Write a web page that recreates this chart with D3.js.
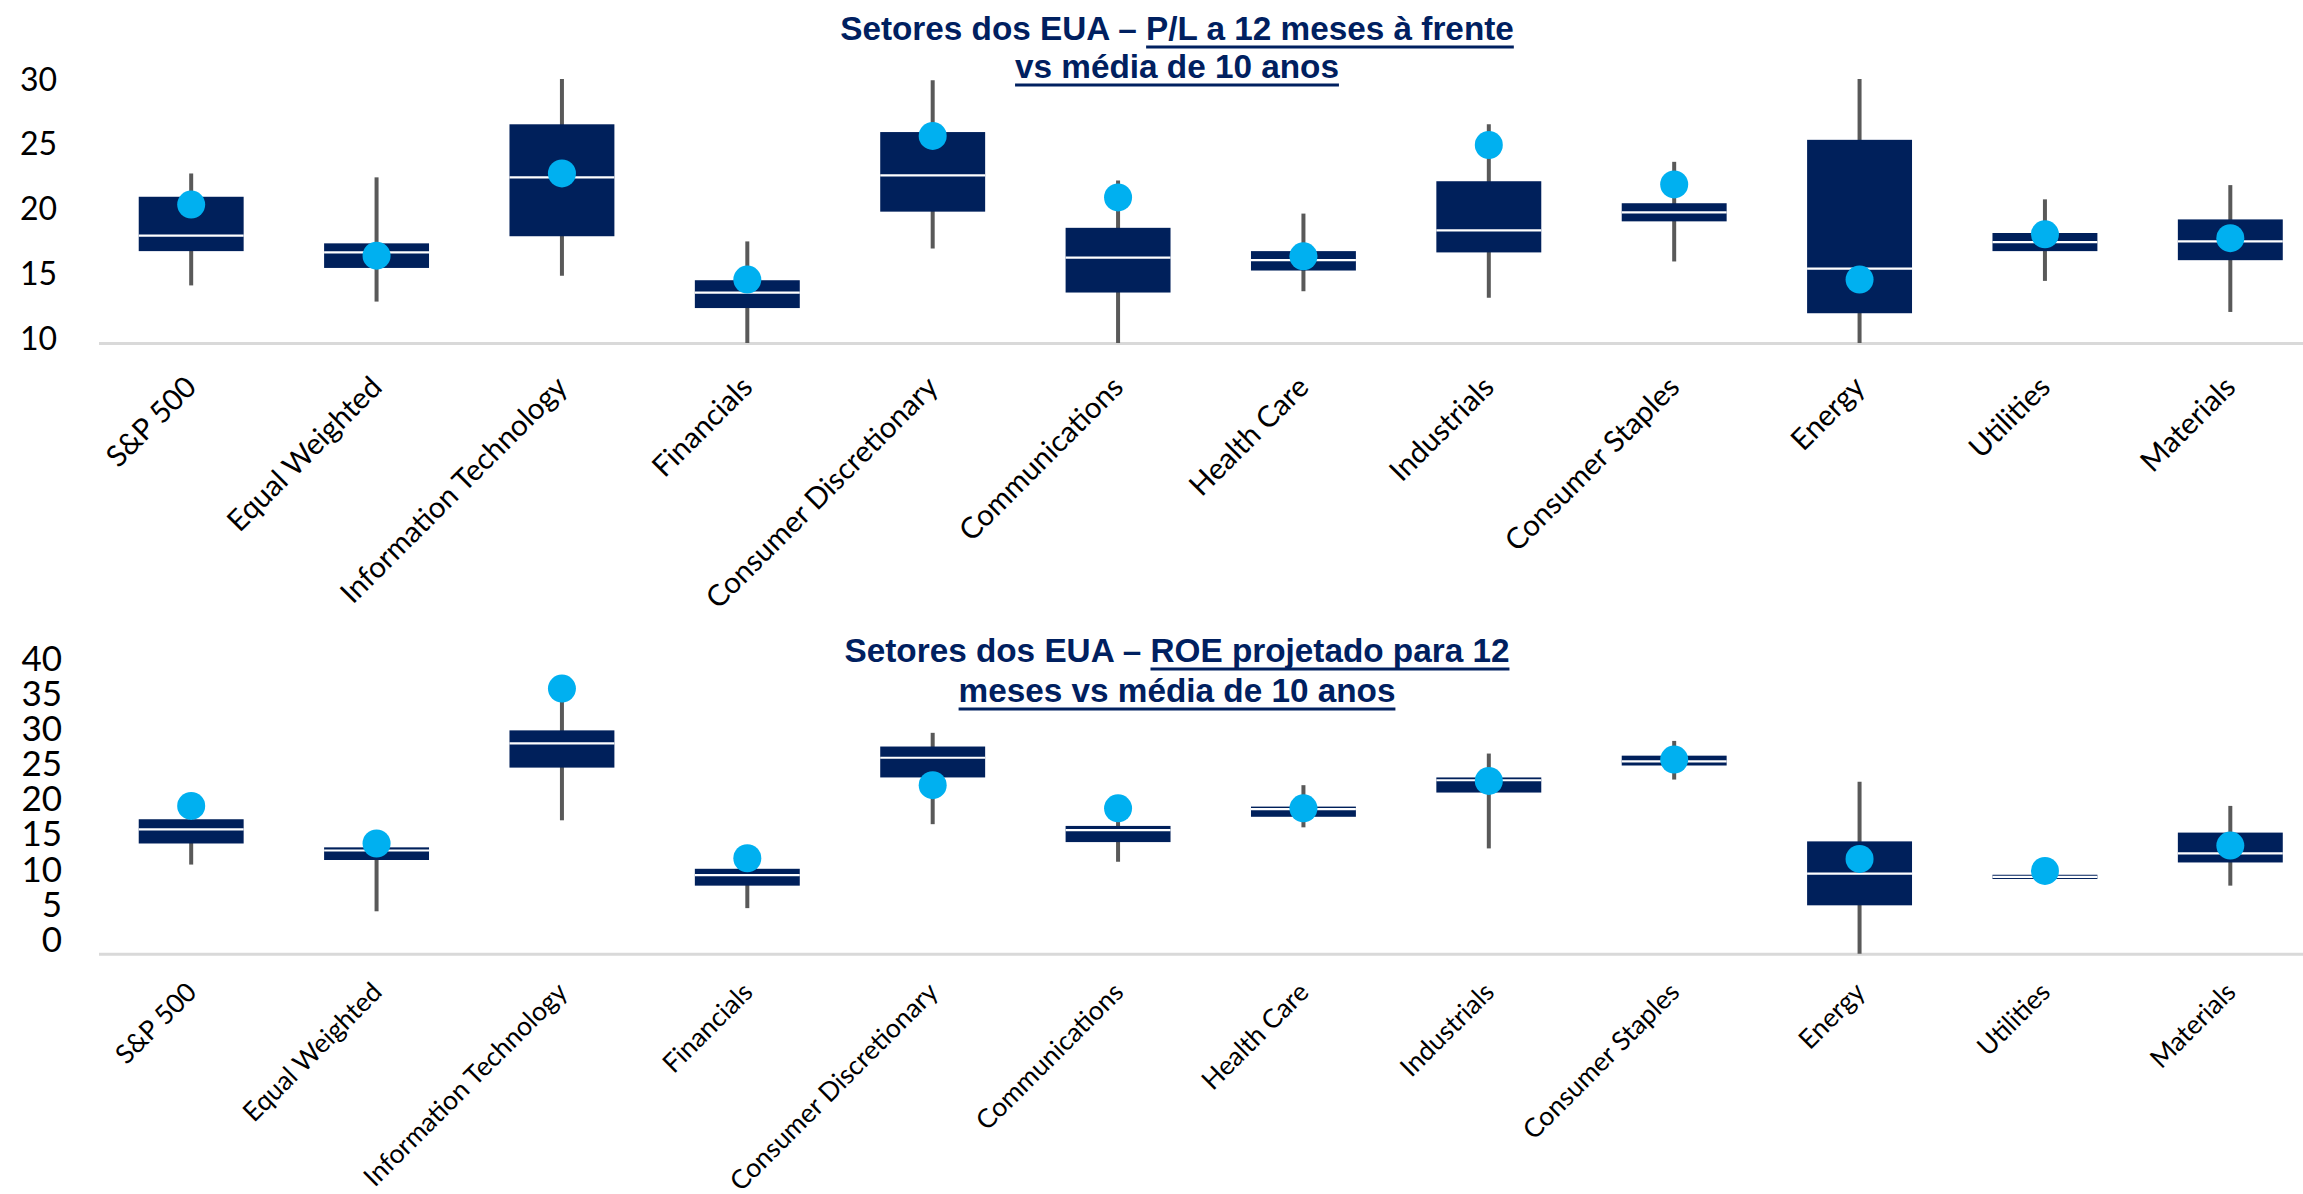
<!DOCTYPE html>
<html><head><meta charset="utf-8">
<script src="https://cdn.jsdelivr.net/npm/d3@7"></script>
<style>html,body{margin:0;padding:0;background:#fff;overflow:hidden}</style>
</head><body><svg id="chart" width="2303" height="1194"></svg>
<script>
// ---------- DATA ----------
const categories = ["S&P 500","Equal Weighted","Information Technology","Financials","Consumer Discretionary","Communications","Health Care","Industrials","Consumer Staples","Energy","Utilities","Materials"];

// Forward P/E (12 months) vs 10-year range
const peMin     = [14.05,12.8,14.8,9.6,16.9,9.4,13.6,13.1,15.9,9.4,14.4,12.0];
const peQ1      = [16.7,15.4,17.85,12.3,19.75,13.5,15.2,16.6,19.0,11.9,16.7,16.0];
const peMedian  = [17.9,16.6,22.4,13.5,22.55,16.2,16.0,18.3,19.7,15.35,17.4,17.45];
const peQ3      = [20.9,17.3,26.5,14.45,25.9,18.5,16.7,22.1,20.4,25.3,18.1,19.15];
const peMax     = [22.7,22.4,30.0,17.45,29.9,22.15,19.6,26.5,23.6,30.0,20.7,21.8];
const peCurrent = [20.3,16.35,22.7,14.5,25.6,20.85,16.3,24.9,21.85,14.5,18.0,17.7];
const peTicks   = [10,15,20,25,30];

// Forward ROE (12 months) vs 10-year range
const roeMin     = [10.6,3.95,16.9,4.4,16.35,11.0,15.9,12.9,22.7,-2.5,8.5,7.6];
const roeQ1      = [13.6,11.25,24.4,7.6,23.0,13.8,17.4,20.85,24.7,4.8,8.55,10.9];
const roeMedian  = [15.6,12.6,27.85,9.1,25.8,15.5,18.5,22.6,25.3,9.3,8.85,12.2];
const roeQ3      = [17.05,13.05,29.7,10.0,27.4,16.1,18.85,23.0,26.1,13.9,9.15,15.15];
const roeMax     = [18.5,13.6,34.5,11.0,29.35,17.0,21.9,26.4,28.2,22.4,9.7,18.95];
const roeCurrent = [18.95,13.6,35.65,11.5,21.9,18.6,18.6,22.5,25.55,11.4,9.7,13.3];
const roeTicks   = [0,5,10,15,20,25,30,35,40];

const peTitle  = [[{text:"Setores dos EUA – ",u:false},{text:"P/L a 12 meses à frente",u:true}],
                  [{text:"vs média de 10 anos",u:true}]];
const roeTitle = [[{text:"Setores dos EUA – ",u:false},{text:"ROE projetado para 12",u:true}],
                  [{text:"meses vs média de 10 anos",u:true}]];

// ---------- DRAW ----------
const svg = d3.select("#chart");
svg.append("rect").attr("width",2303).attr("height",1194).attr("fill","#fff");

const NAVY = "#00205B", DOT = "#00B0F0", WHISK = "#595959";

const x = d3.scaleBand().domain(categories).range([98.5, 2323]).paddingInner(0).paddingOuter(0);
const boxW = x.bandwidth() * 0.566;

function drawTitle(lines, baseY, cx){
  lines.forEach((ln, i) => {
    const by = baseY[i];
    const t = svg.append("text").attr("y", by)
      .attr("font-family","'Liberation Sans', Arial, sans-serif")
      .attr("font-weight","bold").attr("font-size",33.3).attr("fill","#002060");
    const spans = ln.map(p => t.append("tspan").text(p.text));
    const total = t.node().getComputedTextLength();
    const start = cx - total/2;
    t.attr("x", start);
    let off = start;
    ln.forEach((p, j) => {
      const w = spans[j].node().getComputedTextLength();
      if (p.u) svg.append("line").attr("x1",off).attr("x2",off+w)
        .attr("y1",by+7).attr("y2",by+7).attr("stroke","#002060").attr("stroke-width",3);
      off += w;
    });
  });
}

function panel(o){
  const y = d3.scaleLinear().domain(o.domain).range(o.range).clamp(true);
  const g = svg.append("g");

  // y labels
  const ya = d3.axisLeft(y).tickValues(o.ticks).tickSize(0).tickPadding(0).tickFormat(d3.format("d"));
  const yg = g.append("g").attr("transform",`translate(${o.tickX},0)`).call(ya);
  yg.select(".domain").remove();
  yg.selectAll("text").attr("font-family","Lato, 'Open Sans', sans-serif")
    .attr("font-size",o.tickFont).attr("fill","#000").attr("dy","0.35em");

  // x axis
  const xa = d3.axisBottom(x).tickSize(0).tickPadding(0);
  const xg = g.append("g").attr("transform",`translate(0,${y(o.domain[0])})`).call(xa);
  xg.select(".domain").attr("stroke","#D9D9D9").attr("stroke-width",3);
  xg.selectAll("text").attr("font-family","Lato, 'Open Sans', sans-serif")
    .attr("font-size",o.xFont).attr("fill","#000")
    .attr("x",0).attr("y",0).attr("dy",0)
    .attr("text-anchor","end")
    .attr("transform",`translate(7,${o.xDy}) rotate(-45)`);

  const idx = d3.range(categories.length);
  const cx = i => x(categories[i]) + x.bandwidth()/2;

  // whiskers (min - max)
  g.selectAll(".wh").data(idx).join("line")
    .attr("x1",cx).attr("x2",cx)
    .attr("y1",i=>y(o.min[i])).attr("y2",i=>y(o.max[i]))
    .attr("stroke",WHISK).attr("stroke-width",4);
  // boxes (q1 - q3)
  g.selectAll(".bx").data(idx).join("rect")
    .attr("x",i=>cx(i)-boxW/2).attr("width",boxW)
    .attr("y",i=>y(o.q3[i])).attr("height",i=>y(o.q1[i])-y(o.q3[i]))
    .attr("fill",NAVY);
  // median white line
  g.selectAll(".md").data(idx).join("line")
    .attr("x1",i=>cx(i)-boxW/2).attr("x2",i=>cx(i)+boxW/2)
    .attr("y1",i=>y(o.med[i])).attr("y2",i=>y(o.med[i]))
    .attr("stroke","#fff").attr("stroke-width",2.2);
  // current value dots
  g.selectAll(".dt").data(idx).join("circle")
    .attr("cx",cx).attr("cy",i=>y(o.cur[i])).attr("r",14)
    .attr("fill",DOT);

  drawTitle(o.title, o.titleY, 1177);
}

panel({min:peMin,q1:peQ1,med:peMedian,q3:peQ3,max:peMax,cur:peCurrent,
  ticks:peTicks,domain:[9.6,30],range:[343,79],tickX:57,tickFont:32,xFont:29.5,xDy:46,
  title:peTitle,titleY:[40,78]});
panel({min:roeMin,q1:roeQ1,med:roeMedian,q3:roeQ3,max:roeMax,cur:roeCurrent,
  ticks:roeTicks,domain:[-2.1,40],range:[953.8,658],tickX:62,tickFont:35,xFont:26.5,xDy:40,
  title:roeTitle,titleY:[662,702]});
</script></body></html>
